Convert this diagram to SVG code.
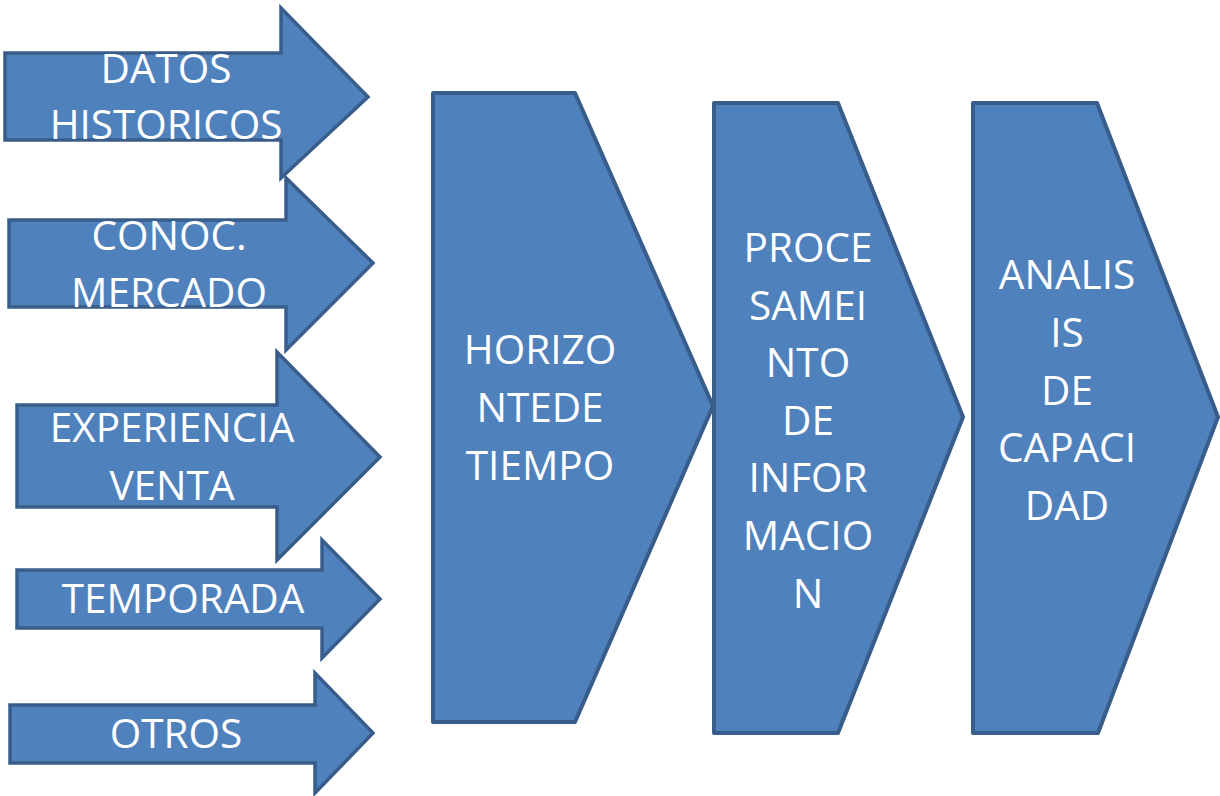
<svg xmlns="http://www.w3.org/2000/svg" width="1220" height="796" viewBox="0 0 1220 796">
<style>
.shape{fill:#4f81bd;stroke:#385d8a;stroke-linejoin:miter}
.arr{stroke-width:3.5}
.chev{stroke-width:4;stroke-linejoin:round}
.t{font-family:"Open Sans","Liberation Sans",sans-serif;font-size:40.5px;fill:#ffffff;text-anchor:middle}
</style>
<rect width="1220" height="796" fill="#ffffff"/>
<g id="node-datos">
<polygon class="shape arr" points="5,53 281,53 281,8 368,97 281,178 281,140 5,140"/>
<text class="t" x="166" y="83">DATOS</text>
<text class="t" x="166" y="139">HISTORICOS</text>
</g>
<g id="node-conoc">
<polygon class="shape arr" points="9,220 286,220 286,178 373,263 286,350 286,307 9,307"/>
<text class="t" x="169" y="250">CONOC.</text>
<text class="t" x="169" y="307">MERCADO</text>
</g>
<g id="node-experiencia">
<polygon class="shape arr" points="17,405 277,405 277,352 380,457 277,560 277,507 17,507"/>
<text class="t" x="172" y="442">EXPERIENCIA</text>
<text class="t" x="172" y="500">VENTA</text>
</g>
<g id="node-temporada">
<polygon class="shape arr" points="17,570 322,570 322,540 380,599 322,658 322,628 17,628"/>
<text class="t" x="183" y="613">TEMPORADA</text>
</g>
<g id="node-otros">
<polygon class="shape arr" points="10,705 315,705 315,673 373,733 315,793 315,763 10,763"/>
<text class="t" x="176" y="748">OTROS</text>
</g>
<g id="node-horizonte">
<polygon class="shape chev" points="433,93 575,93 713,406 575,722 433,722"/>
<text class="t" x="540" y="364">HORIZO</text>
<text class="t" x="540" y="422">NTEDE</text>
<text class="t" x="540" y="480">TIEMPO</text>
</g>
<g id="node-procesamiento">
<polygon class="shape chev" points="714,103 838,103 963,417 838,733 714,733"/>
<text class="t" x="808" y="262">PROCE</text>
<text class="t" x="808" y="320">SAMEI</text>
<text class="t" x="808" y="377">NTO</text>
<text class="t" x="808" y="435">DE</text>
<text class="t" x="808" y="492">INFOR</text>
<text class="t" x="808" y="550">MACIO</text>
<text class="t" x="808" y="608">N</text>
</g>
<g id="node-analisis">
<polygon class="shape chev" points="973,103 1097,103 1218,417 1098,733 973,733"/>
<text class="t" x="1067" y="289">ANALIS</text>
<text class="t" x="1067" y="347">IS</text>
<text class="t" x="1067" y="405">DE</text>
<text class="t" x="1067" y="462">CAPACI</text>
<text class="t" x="1067" y="520">DAD</text>
</g>
<g id="connectors"></g>
</svg>
